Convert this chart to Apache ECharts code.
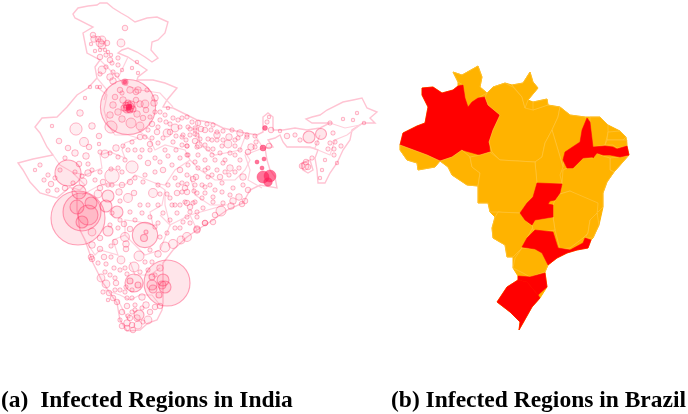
<!DOCTYPE html>
<html><head><meta charset="utf-8">
<style>html,body{margin:0;padding:0;background:#fff}#c{width:688px;height:414px;filter:blur(0.55px)}</style>
<script src="https://cdn.jsdelivr.net/npm/echarts@6/dist/echarts.min.js"></script>
</head><body><div id="c"></div>
<script>
var captions=["(a)  Infected Regions in India","(b) Infected Regions in Brazil"];
var mapExtent=[[0,0],[688,414]];

var indiaMainland=[[73,14],[78,8],[88,6],[97,5],[100,3],[107,3],[113,8],[121,13],[128,17],[135,22],[147,18],[157,17],[168,22],[165,33],[158,40],[152,42],[151,50],[158,58],[152,62],[145,57],[137,52],[128,48],[122,50],[118,53],[128,57],[147,70],[138,77],[137,80],[153,80],[165,83],[177,88],[167,100],[163,107],[173,108],[187,115],[197,120],[213,123],[223,128],[240,132],[257,135],[263,132],[263,117],[268,113],[273,117],[273,130],[283,130],[295,128],[307,130],[320,128],[330,123],[312,123],[306,119],[312,117],[320,115],[327,110],[343,102],[353,100],[362,98],[367,108],[377,112],[370,118],[375,123],[363,123],[352,130],[350,140],[343,150],[337,163],[330,173],[325,183],[318,183],[317,170],[315,158],[318,150],[310,147],[287,147],[283,142],[280,135],[275,138],[268,140],[273,147],[265,148],[267,160],[270,170],[275,177],[277,188],[260,185],[250,190],[243,203],[227,210],[213,220],[197,230],[187,237],[173,250],[163,263],[163,303],[162,310],[157,320],[148,323],[140,330],[127,331],[120,320],[117,303],[103,283],[93,263],[85,240],[80,230],[77,210],[77,193],[70,187],[57,198],[40,193],[30,182],[23,170],[18,163],[33,159],[43,157],[53,155],[47,147],[40,133],[35,127],[42,118],[57,117],[67,107],[77,95],[88,88],[97,78],[95,67],[100,60],[87,53],[83,33],[93,27],[75,18]];
var tripura=[[302,163],[310,160],[313,170],[308,173],[303,170]];

var stateBorders=[
[[97,87],[107,95],[104,110],[108,125],[115,135],[128,135],[138,138],[125,143],[122,150],[125,158],[110,152],[100,155],[102,168],[85,175],[72,172],[60,165],[53,155]],
[[138,130],[150,140],[155,150],[165,145],[185,150],[190,160]],
[[118,78],[125,85],[140,90],[160,93],[173,107]],
[[97,78],[107,90],[104,100]],
[[100,60],[112,72],[118,78],[128,57]],
[[72,172],[85,185],[80,190],[70,187]],
[[82,195],[100,185],[125,185],[135,175],[155,183],[165,190],[162,205],[150,212],[153,225],[140,222],[125,220],[125,235],[113,240],[118,255],[100,250],[95,255],[85,240]],
[[190,160],[175,170],[165,185],[155,183]],
[[165,190],[165,205],[170,225],[160,215]],
[[125,235],[145,255],[160,250],[170,225],[190,215],[197,230]],
[[130,262],[135,275],[150,275],[160,268]],
[[105,290],[120,295],[130,300],[140,295],[152,295],[160,305]],
[[118,300],[128,320]],
[[197,120],[200,145],[215,155],[240,150],[245,137]],
[[190,160],[200,170],[215,180],[235,180],[245,170],[250,160],[245,152]],
[[190,175],[195,195],[210,205],[225,205],[190,215]],
[[255,135],[263,148],[245,155],[250,170],[248,180],[262,188]],
[[330,123],[345,128],[360,125],[347,135],[335,140],[330,155],[318,150]],
[[287,147],[315,148],[320,135]]
];

// location x, location y, cases
var indiaDistricts=[
[125,28,4],[93,35,4],[94,39,6],[98,39,4],[102,40,9],[100,43,9],[102,45,9],[107,43,4],[91,44,1],[95,51,1],[100,50,1],[105,50,1],[108,52,1],[121,43,9],[106,55,2],[100,57,4],[110,60,4],[111,55,1],[118,58,2],[118,65,2],[112,63,2],[106,67,2],[102,70,9],[100,74,2],[113,72,2],[122,70,1],[117,75,2],[110,77,6],[113,81,6],[132,68,1],[137,62,1],[138,73,1],[100,87,1],[97,87,1],[90,87,1],[85,98,1],[80,113,6],[52,126,1],
[123,100,6],[136,100,4],[140,104,6],[145,104,9],[154,103,6],[113,105,6],[118,112,6],[110,115,6],[122,119,6],[131,123,16],[140,126,9],[146,110,4],[136,92,4],[120,90,4],[130,90,6],[138,90,6],[147,90,2],[115,97,4],[122,93,2],[150,117,2],[155,98,6],[143,118,4],[137,114,6],
[92,126,6],[76,129,25],[111,127,25],[99,136,4],[84,142,12],[59,141,4],[89,147,4],[68,148,4],[75,153,6],[86,156,6],[116,148,6],[100,152,2],[105,154,9],[99,144,1],[40,165,2],[65,158,2],[79,164,4],[88,164,2],[132,167,25],[112,176,36],[111,169,2],[123,146,2],[125,160,2],[118,157,2],[110,153,2],[140,137,4],[148,163,4],[140,157,2],[163,170,4],[150,144,4],[167,133,9],[175,128,9],[157,132,4],[158,127,2],[166,122,2],[173,118,2],[180,127,2],[188,127,2],[195,130,2],[183,135,2],[197,135,2],[195,141,4],[187,146,2],[197,147,2],[182,145,2],[173,142,2],[163,138,2],[158,143,2],[165,150,2],[180,158,2],[188,155,2],
[182,118,2],[187,117,2],[198,123,4],[207,124,2],[213,125,2],[190,129,2],[195,128,2],[201,129,4],[205,130,4],[211,130,2],[217,132,2],[223,131,2],[232,130,2],[240,133,6],[247,135,2],[255,136,2],[271,130,4],[280,131,1],
[182,137,2],[190,135,2],[195,134,2],[200,139,2],[208,139,2],[217,135,6],[217,140,2],[223,140,2],[229,137,6],[238,138,2],[247,137,2],[251,147,6],[235,140,2],[256,142,2],[269,146,4],
[187,146,2],[199,145,6],[208,149,2],[213,149,2],[222,146,2],[228,144,9],[235,146,2],[240,150,2],[248,152,4],[255,147,2],[230,153,2],[220,153,2],[212,155,2],[198,155,2],[187,155,2],
[230,168,6],[223,163,2],[239,168,2],[217,170,2],[208,168,2],[198,168,2],[229,175,2],[220,177,4],[243,177,6],[208,177,2],[196,177,4],[187,175,2],[187,184,2],[202,185,2],[210,185,2],[222,183,2],[233,188,2],[243,185,2],[248,190,4],[182,183,2],[194,191,2],[187,192,4],[182,192,2],[202,198,2],[213,197,2],[239,197,6],[245,201,4],[233,201,6],[242,204,4],[231,206,6],[223,203,2],[213,202,2],[221,211,16],[215,215,4],[190,207,4],[195,202,2],[203,208,2],[197,212,2],[187,217,2],[205,223,4],[213,222,4],[197,229,6],[187,237,12],[180,228,2],[190,223,2],[185,202,2],
[287,136,4],[295,135,2],[300,140,2],[317,143,2],[333,133,2],[343,119,1],[330,123,2],[353,120,1],[364,123,1],[357,113,1],[335,142,2],[330,143,2],[341,146,2],[334,149,2],[328,149,2],[334,155,2],[337,163,1],[325,160,1],[322,170,1],[320,178,1],[312,158,2],[305,166,9],[302,166,4],[308,167,4],[306,162,4],[269,117,1],[267,122,2],
[44,180,2],[51,184,4],[48,191,2],[57,190,2],[65,188,4],[88,173,6],[83,182,9],[73,183,2],[98,194,9],[119,192,6],[134,193,4],[153,193,12],[128,198,12],[120,201,2],[100,188,4],[112,185,2],[122,185,4],[103,182,4],[130,182,4],[143,182,2],[158,185,2],[168,185,2],[177,193,4],[160,194,2],[167,194,2],[185,188,4],[193,179,4],[205,187,2],[197,193,2],[187,203,4],[177,213,2],[193,203,2],[190,212,2],[183,222,2],[197,217,2],[205,223,4],[197,230,6],[181,240,9],[173,244,12],[165,247,16],[158,254,6],[139,256,16],[134,267,16],[160,268,6],
[125,237,12],[115,242,4],[126,244,6],[126,249,4],[111,246,2],[100,249,4],[92,245,6],[91,257,4],[92,259,4],[104,257,4],[111,257,2],[121,260,9],[98,263,2],[106,264,2],[114,268,2],[120,270,2],[105,272,2],[101,278,9],[106,284,9],[116,283,4],[127,274,2],[127,298,2],[109,293,4],[103,292,2],[113,298,4],[117,302,4],[132,298,2],[142,297,6],[146,305,6],[155,307,4],[160,306,4],[120,290,2],[126,287,2],[132,290,2],[127,306,4],[122,312,4],[132,312,2],[135,310,2],[148,320,9],[138,325,9],[127,323,6],[120,320,2],[132,325,4],[127,328,4],[133,330,4],[137,318,6],
[130,229,4],[124,224,4],[142,213,2],[150,217,2],[158,223,2],[163,213,2],[155,227,2],[167,233,2],[160,237,2],[135,220,2],[120,220,2],[112,213,2],[92,232,9],[100,238,4],
[160,112,2],[165,115,2],[170,124,2],[176,136,2],[152,124,4],[148,130,2],[160,120,2],[155,112,2],[168,108,1],[145,137,2],[152,138,2],[192,122,2],[178,120,2],[170,132,4],[186,140,2],[176,150,2],[168,156,2],[155,158,2],[142,150,2],[135,150,2],[132,142,2],[128,150,2],[150,150,2],[160,162,2],[172,165,2],[180,170,4],[188,165,2],[155,172,2],[145,175,2],[135,178,2],[122,172,2],[118,168,2],[100,172,2],[92,170,2],[82,176,2],[75,172,2],[60,170,2],[48,175,2],[55,178,2],[35,170,1],[95,180,2],[108,185,2],
[110,225,2],[118,228,2],[130,212,2],[140,205,2],[148,205,2],[158,205,2],[172,205,2],[180,205,2],[170,220,2],[175,228,2],[150,250,2],[145,262,2],[152,262,2],[140,272,2],[125,268,2],[110,275,2],[115,278,2],[148,270,2],[155,275,2],[125,292,2],[135,305,2],[150,312,4],[142,308,2],[128,316,2],[122,326,4],[130,318,4],[143,322,2],[115,290,2],[108,300,1],
[205,170,2],[212,175,2],[225,172,2],[235,172,2],[240,160,2],[235,155,2],[225,160,2],[215,160,2],[205,160,2],[195,162,2],[205,145,2],[212,140,2],[175,178,2],[178,185,2],[170,198,2],[175,205,2],[215,190,2],[222,192,2],[230,195,2],[205,193,2],[195,185,2]
];
var indiaCities=[
[128,107,760],[68,173,170],[78,218,730],[82,212,360],[91,203,36],[77,207,49],[82,222,36],[88,215,100],[106,206,36],[117,212,36],[108,196,36],[79,192,49],[108,231,25],
[145,235,160],[144,238,12],[146,232,4],[167,283,530],[163,280,36],[165,287,36],[162,285,16],[152,285,25],[152,277,9],[153,289,16],[159,295,9],[134,283,81],[130,281,9],[138,285,9],[139,315,25],[309,137,36],[321,134,30],
[129,107,25],[127,109,16],[131,105,16],[130,110,9],[126,105,9],[133,109,9],[124,108,9],[128,103,9],[125,82,9]
];
var indiaHotspots=[[263,177,36],[270,176,36],[268,182,18],[263,148,9],[265,128,6],[264,159,4],[257,162,4],[262,168,4],[125,82,4],[129,107,9],[128,109,4],[130,106,4]];

var brazilOutline=[[453,72],[462,75],[478,66],[482,77],[480,87],[487,93],[493,87],[505,83],[512,85],[523,83],[530,72],[533,82],[538,88],[528,100],[533,102],[547,99],[548,105],[560,107],[570,115],[585,117],[600,117],[608,125],[620,131],[626,137],[627,146],[629,155],[622,163],[614,172],[607,182],[603,193],[603,207],[599,225],[593,238],[591,240],[588,248],[577,250],[567,253],[557,258],[548,265],[545,272],[547,287],[540,298],[532,307],[523,323],[519,330],[520,322],[510,312],[497,302],[507,287],[518,280],[518,276],[513,268],[513,257],[507,257],[505,245],[493,238],[492,228],[495,217],[490,212],[488,203],[478,203],[478,186],[467,185],[452,175],[448,167],[440,161],[435,167],[418,170],[417,163],[407,160],[400,150],[400,145],[403,133],[417,126],[425,123],[428,107],[422,95],[422,88],[433,87],[442,93],[453,90],[458,86],[458,82]];
var brazilStates={
"Roraima":[[453,72],[462,75],[478,66],[482,77],[480,87],[487,93],[478,98],[472,102],[468,107],[465,98],[463,85],[458,82]],
"Amazonas":[[422,88],[433,87],[442,93],[453,90],[458,86],[463,85],[465,98],[468,107],[472,102],[478,98],[485,97],[488,105],[500,115],[493,130],[489,142],[490,152],[480,155],[462,150],[452,157],[440,161],[427,155],[400,145],[403,133],[417,126],[425,123],[428,107],[422,95]],
"Acre":[[400,145],[427,155],[440,161],[435,167],[418,170],[417,163],[407,160],[400,150]],
"Rondonia":[[440,161],[452,157],[462,150],[470,157],[472,167],[480,173],[478,186],[467,185],[452,175],[448,167]],
"Para":[[487,93],[493,87],[505,83],[513,87],[522,97],[525,108],[533,110],[547,105],[560,107],[558,117],[552,130],[545,143],[542,157],[535,162],[500,160],[492,152],[489,142],[493,130],[500,115],[488,105],[485,97]],
"Amapa":[[512,85],[523,83],[530,72],[533,82],[538,88],[528,100],[525,108],[522,97]],
"Marajo":[[533,102],[547,99],[548,105],[533,110]],
"Maranhao":[[560,107],[570,115],[585,117],[587,120],[582,130],[580,142],[565,153],[563,167],[558,150],[552,130],[558,117]],
"Tocantins":[[552,130],[558,150],[563,167],[560,175],[562,183],[537,185],[535,162],[542,157],[545,143]],
"Ceara":[[590,117],[600,117],[608,125],[608,133],[605,145],[593,147],[590,122]],
"RioGrandeDoNorte":[[608,132],[620,131],[626,137],[623,140],[607,140]],
"Paraiba":[[607,140],[627,140],[627,146],[617,148],[613,145],[605,145]],
"AlagoasSergipe":[[610,158],[628,156],[622,163],[614,172],[610,170]],
"Bahia":[[593,158],[597,153],[603,156],[610,158],[610,170],[614,172],[607,182],[603,193],[603,207],[598,212],[585,200],[570,191],[560,194],[562,183],[563,170],[567,168],[573,168],[583,158]],
"MinasGerais":[[570,191],[598,203],[597,215],[590,220],[588,233],[583,238],[570,248],[560,249],[555,230],[553,217],[553,205],[555,200],[560,194]],
"EspiritoSanto":[[597,213],[599,225],[593,238],[585,238],[588,233],[590,220]],
"Triangulo":[[532,225],[535,220],[553,217],[555,230],[543,232],[533,230]],
"MatoGrosso":[[470,157],[480,155],[490,152],[500,160],[535,162],[537,183],[533,197],[527,203],[520,213],[507,213],[498,212],[490,212],[488,203],[478,203],[478,186],[480,173],[472,167]],
"MatoGrossoDoSul":[[498,212],[520,213],[525,220],[533,227],[527,238],[522,248],[513,257],[507,257],[505,245],[493,238],[492,228],[495,217]],
"Parana":[[522,248],[535,249],[542,253],[548,265],[545,272],[530,277],[523,273],[513,268],[515,258]],
"Piaui":[[587,118],[590,122],[593,147],[593,157],[583,158],[573,168],[567,168],[563,160],[565,152],[580,142],[582,130]],
"Pernambuco":[[593,147],[605,146],[613,147],[617,149],[627,146],[629,155],[620,157],[610,155],[603,155],[597,153],[593,158]],
"Goias":[[537,183],[562,184],[560,193],[555,200],[550,201],[548,204],[553,205],[553,217],[535,220],[532,225],[525,220],[520,213],[527,203],[533,197]],
"SaoPaulo":[[535,230],[553,232],[558,248],[570,250],[583,243],[585,238],[591,240],[588,248],[577,250],[567,253],[557,258],[548,265],[542,253],[535,249],[522,247],[527,238]],
"SantaCatarina":[[518,276],[530,277],[545,273],[547,287],[538,295],[527,282],[518,280]],
"RioGrandeDoSul":[[518,280],[527,282],[538,295],[540,298],[532,307],[523,323],[519,330],[520,322],[510,312],[497,302],[507,287]]
};
var brazilInfected=["Amazonas","Piaui","Pernambuco","Goias","SaoPaulo","SantaCatarina","RioGrandeDoSul"];

function feature(name,ring){return {type:'Feature',properties:{name:name},geometry:{type:'Polygon',coordinates:[ring]}};}
echarts.registerMap('india',{type:'FeatureCollection',features:[feature('mainland',indiaMainland),feature('tripura',tripura)]});
echarts.registerMap('brazil',{type:'FeatureCollection',features:[feature('Brasil',brazilOutline)].concat(Object.keys(brazilStates).map(function(k){return feature(k,brazilStates[k]);}))});

var identity={project:function(p){return p;},unproject:function(p){return p;}};
function bubble(d){return 2*Math.sqrt(d[2]);}
function districtBubble(d){return 2.2*Math.sqrt(d[2])+1.2;}
var chart=echarts.init(document.getElementById('c'),null,{renderer:'canvas'});
var captionStyle={fontFamily:'Liberation Serif',fontWeight:'bold',fontSize:23.5,color:'#000'};
chart.setOption({
 animation:false,backgroundColor:'#fff',
 title:[
  {text:captions[0],left:1,top:389,padding:0,textStyle:captionStyle},
  {text:captions[1],left:391,top:389,padding:0,textStyle:captionStyle}
 ],
 geo:[
  {map:'india',projection:identity,boundingCoords:mapExtent,left:0,top:0,width:688,height:414,silent:true,
   itemStyle:{areaColor:'#fff',borderColor:'#ffc4d3',borderWidth:1.4},emphasis:{disabled:true}},
  {map:'brazil',projection:identity,boundingCoords:mapExtent,left:0,top:0,width:688,height:414,silent:true,
   itemStyle:{areaColor:'#ffb300',borderColor:'#ffc844',borderWidth:0.6},emphasis:{disabled:true},
   regions:[{name:'Brasil',itemStyle:{areaColor:'#ffb300',borderColor:'#ffb300',borderWidth:1}}].concat(brazilInfected.map(function(n){return {name:n,itemStyle:{areaColor:'#ff0000',borderColor:'#ff0000',borderWidth:0.6}};}))}
 ],
 series:[
  {type:'lines',coordinateSystem:'geo',geoIndex:0,polyline:true,silent:true,z:3,
   lineStyle:{color:'#ffd0dc',width:1.2,opacity:1},data:stateBorders.map(function(c){return {coords:c};})},
  {type:'scatter',name:'Districts',coordinateSystem:'geo',geoIndex:0,silent:true,z:4,data:indiaDistricts,symbolSize:districtBubble,
   itemStyle:{color:'rgba(255,70,110,0.12)',borderColor:'rgba(255,50,100,0.44)',borderWidth:1}},
  {type:'scatter',name:'Cities',coordinateSystem:'geo',geoIndex:0,silent:true,z:5,data:indiaCities,symbolSize:bubble,
   itemStyle:{color:'rgba(255,60,100,0.17)',borderColor:'rgba(255,50,100,0.55)',borderWidth:1.1}},
  {type:'scatter',name:'Hotspots',coordinateSystem:'geo',geoIndex:0,silent:true,z:6,data:indiaHotspots,symbolSize:bubble,
   itemStyle:{color:'rgba(255,25,85,0.75)',borderColor:'rgba(255,40,95,0.6)',borderWidth:0.8}}
 ]
});
</script></body></html>
